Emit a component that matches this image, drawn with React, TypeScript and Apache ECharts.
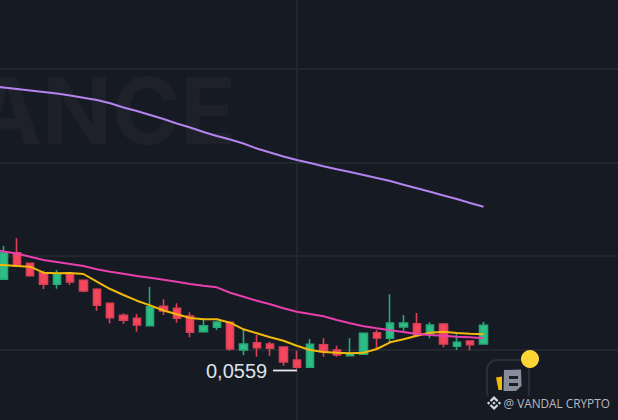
import React, { useEffect, useRef } from "react";
import * as echarts from "echarts";

const W = 618;
const H = 420;

// index 0 lies left of the visible area and only carries the moving averages
const opens = [
  null, 0.07502, 0.08071, 0.07844, 0.07643, 0.07395, 0.07609, 0.0748, 0.07288, 0.06988, 0.06732,
  0.06667, 0.06509, 0.06924, 0.06881, 0.06717, 0.06381, 0.06475, 0.06582, 0.05989, 0.06145, 0.06118,
  0.06053, 0.05775, 0.05619, 0.06101, 0.05989, 0.05867, 0.05897, 0.06359, 0.0624, 0.06481, 0.06552,
  0.06332, 0.06545, 0.06068, 0.06182, 0.06118,
];
const closes = [
  null, 0.08071, 0.07786, 0.07579, 0.07395, 0.07609, 0.07444, 0.07251, 0.06945, 0.0668, 0.06625,
  0.06524, 0.06915, 0.06824, 0.06667, 0.06368, 0.06509, 0.06588, 0.06011, 0.06118, 0.06039, 0.06026,
  0.05733, 0.05619, 0.06111, 0.05953, 0.05882, 0.05919, 0.06347, 0.06246, 0.06567, 0.06567, 0.0631,
  0.06524, 0.06118, 0.06154, 0.06103, 0.06518,
];
const lows = [
  null, 0.07497, 0.0778, 0.07557, 0.07294, 0.07301, 0.0738, 0.07224, 0.0683, 0.0656, 0.06552,
  0.06381, 0.06509, 0.06738, 0.06573, 0.06261, 0.06359, 0.06417, 0.05974, 0.05876, 0.05846, 0.05867,
  0.05653, 0.0559, 0.05619, 0.05846, 0.05846, 0.05867, 0.05897, 0.06026, 0.06154, 0.06402, 0.0631,
  0.0624, 0.06047, 0.05989, 0.05983, 0.06118,
];
const highs = [
  null, 0.08214, 0.08379, 0.0785, 0.07686, 0.07701, 0.07636, 0.07487, 0.07309, 0.06995, 0.06774,
  0.06759, 0.07337, 0.07074, 0.06988, 0.06796, 0.06667, 0.06616, 0.06582, 0.06432, 0.0631, 0.06167,
  0.06053, 0.05974, 0.06225, 0.0624, 0.06081, 0.0624, 0.06347, 0.06417, 0.07181, 0.06738, 0.06781,
  0.06582, 0.06567, 0.06325, 0.06197, 0.06595,
];
const maYellow = [
  0.07818, 0.07807, 0.07786, 0.07771, 0.07643, 0.0763, 0.07636, 0.07615, 0.0745, 0.07294, 0.07166,
  0.07044, 0.06945, 0.06834, 0.06753, 0.06674, 0.06646, 0.06646, 0.06573, 0.06432, 0.06347, 0.06261,
  0.06188, 0.06081, 0.05989, 0.05947, 0.05932, 0.05919, 0.05932, 0.06011, 0.06154, 0.06218, 0.06295,
  0.06359, 0.06381, 0.06353, 0.06338, 0.06325,
];
const maPink = [
  0.0816, 0.08096, 0.08053, 0.07985, 0.07914, 0.07872, 0.07829, 0.07786, 0.07715, 0.07664, 0.07621,
  0.07572, 0.07536, 0.07493, 0.0745, 0.07401, 0.07365, 0.0733, 0.07215, 0.07129, 0.07044, 0.06967,
  0.06881, 0.06809, 0.06759, 0.06712, 0.06631, 0.0656, 0.06496, 0.06453, 0.06411, 0.06374, 0.06332,
  0.0631, 0.06295, 0.06274, 0.06261, 0.0624,
];
const maPurple = [
  0.11636, 0.11604, 0.11572, 0.1154, 0.11508, 0.11476, 0.11433, 0.11386, 0.11337, 0.11266, 0.11176,
  0.11102, 0.11016, 0.1093, 0.10834, 0.10749, 0.10652, 0.10567, 0.10492, 0.10406, 0.10299, 0.10214,
  0.10128, 0.10053, 0.09989, 0.09919, 0.09854, 0.09797, 0.09733, 0.09668, 0.09604, 0.09525, 0.09448,
  0.09375, 0.09294, 0.09219, 0.09134, 0.09054,
];
const categories = Array.from({ length: 48 }, (_, i) => String(i));
const crosshairCategory = "23";
const lowLabel = "0,0559";
const watermark = "BINANCE";
const credit = "@ VANDAL CRYPTO";

const candles = opens.map((o, i) =>
  o === null ? ["-", "-", "-", "-"] : [o, closes[i], lows[i], highs[i]]
);

const BG = "#161a23";
const GRID = "#22262e";

echarts.graphic.registerShape(
  "bnbLogo",
  echarts.graphic.extendPath(
    "M9.79 13.45 16 7.24l6.21 6.22 3.62-3.61L16 0 6.17 9.83l3.62 3.62zM0 16l3.61-3.62L7.23 16l-3.62 3.61L0 16zm9.79 2.55L16 24.76l6.21-6.22 3.62 3.61L16 32l-9.83-9.83 3.62-3.62zM24.77 16l3.62-3.62L32 16l-3.61 3.62L24.77 16zm-5.1 0L16 12.33 12.33 16 16 19.67 19.67 16z",
    {}
  ) as any
);

export default function App() {
  const ref = useRef<HTMLDivElement>(null);
  useEffect(() => {
    const chart = echarts.init(ref.current!, undefined, { renderer: "svg" });
    const line = (name: string, data: number[], color: string) => ({
      name,
      type: "line",
      data,
      z: 4,
      symbol: "none",
      smooth: false,
      clip: false,
      lineStyle: { color, width: 2 },
      silent: true,
    });
    chart.setOption({
      animation: false,
      backgroundColor: BG,
      grid: {
        left: -16.5,
        top: -24.5,
        width: 640,
        height: 467.5,
        containLabel: false,
        outerBoundsMode: "none",
      },
      xAxis: {
        type: "category",
        data: categories,
        axisLine: { show: false },
        axisTick: { show: false },
        axisLabel: { show: false },
        splitLine: { show: false },
      },
      yAxis: {
        type: "value",
        scale: false,
        min: 0.04,
        max: 0.14,
        interval: 0.02,
        axisLine: { show: false },
        axisTick: { show: false },
        axisLabel: { show: false },
        splitLine: { show: true, lineStyle: { color: GRID, width: 2 } },
      },
      series: [
        {
          type: "line",
          data: [],
          z: 1,
          silent: true,
          markLine: {
            z: 1,
            silent: true,
            symbol: "none",
            label: { show: false },
            lineStyle: { color: GRID, width: 2, type: "solid" },
            data: [{ xAxis: crosshairCategory }],
          },
        },
        {
          type: "candlestick",
          data: candles,
          z: 3,
          barWidth: 8,
          itemStyle: {
            color: "#2ebd85",
            color0: "#f6465d",
            borderColor: "#27a878",
            borderColor0: "#dc4056",
            borderWidth: 1.6,
          },
        },
        line("MA short", maYellow, "#f0b90b"),
        line("MA mid", maPink, "#e93fae"),
        line("MA long", maPurple, "#b583ee"),
      ],
      graphic: [
        {
          type: "text",
          z: 0,
          silent: true,
          style: {
            x: 236,
            y: 110,
            text: watermark,
            align: "right",
            verticalAlign: "middle",
            fill: "#1e2129",
            font: '700 92px Inter, "Open Sans", sans-serif',
          },
        },
        {
          type: "text",
          z: 10,
          style: {
            x: 206,
            y: 371,
            text: lowLabel,
            verticalAlign: "middle",
            fill: "#dfe2e6",
            font: '20px "Liberation Sans", sans-serif',
          },
        },
        {
          type: "line",
          z: 10,
          shape: { x1: 273, y1: 370.5, x2: 297, y2: 370.5 },
          style: { stroke: "#e6e8eb", lineWidth: 1.8 },
        },
        {
          type: "rect",
          z: 10,
          shape: { x: 487, y: 360, width: 42, height: 42, r: 10 },
          style: { fill: "none", stroke: "#2a2e37", lineWidth: 2 },
        },
        {
          type: "rect",
          z: 10,
          shape: { x: 485, y: 396, width: 130, height: 16 },
          style: { fill: BG },
        },
        {
          type: "polygon",
          z: 11,
          shape: { points: [[504, 370], [521, 369.5], [521.5, 386], [516, 391], [503.5, 391]] },
          style: { fill: "#868e9b" },
        },
        {
          type: "rect",
          z: 12,
          shape: { x: 509, y: 376, width: 9, height: 3 },
          style: { fill: "#1c1f27" },
        },
        {
          type: "rect",
          z: 12,
          shape: { x: 509, y: 383, width: 9, height: 3 },
          style: { fill: "#1c1f27" },
        },
        {
          type: "polygon",
          z: 11,
          shape: { points: [[496, 377.5], [502, 376.5], [502, 390], [498.5, 390]] },
          style: { fill: "#f0b90b" },
        },
        {
          type: "circle",
          z: 12,
          shape: { cx: 530, cy: 359, r: 9 },
          style: { fill: "#fcd535" },
        },
        {
          type: "bnbLogo",
          z: 12,
          x: 487,
          y: 396,
          scaleX: 0.44,
          scaleY: 0.44,
          style: { fill: "#d5d8dc" },
        },
        {
          type: "text",
          z: 12,
          style: {
            x: 503.5,
            y: 403,
            text: credit,
            verticalAlign: "middle",
            fill: "#b6bac2",
            font: '11.8px "Open Sans", sans-serif',
          },
        },
      ],
    });
    return () => chart.dispose();
  }, []);
  return (
    <div
      ref={ref}
      style={{ position: "fixed", left: 0, top: 0, width: W, height: H, background: BG }}
    />
  );
}
